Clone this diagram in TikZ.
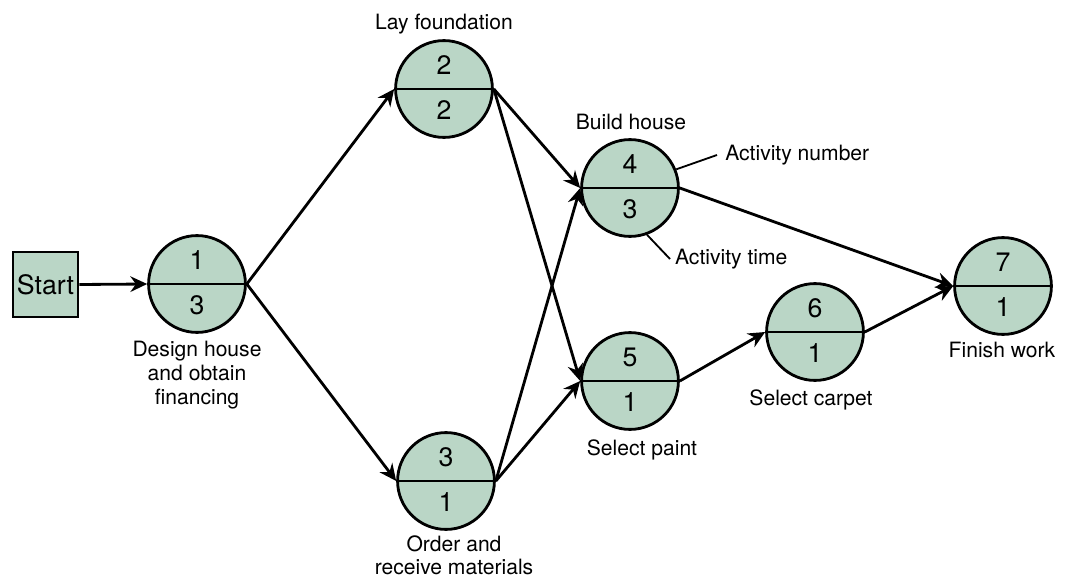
\documentclass[tikz,border=0pt]{standalone}
\usepackage{fontspec}
\setmainfont{TeX Gyre Heros}
\usetikzlibrary{arrows.meta}
\definecolor{actgreen}{RGB}{186,214,198}

\begin{document}
\begin{tikzpicture}[x=0.025cm,y=-0.025cm,
  act/.style={circle,draw,line width=2pt,fill=actgreen,minimum size=2.42cm,inner sep=0pt},
  num/.style={font=\fontsize{19}{19}\selectfont,inner sep=0pt},
  lbl/.style={font=\fontsize{15}{17}\selectfont,align=center,inner sep=0pt},
  link/.style={line width=2pt,-{Stealth[length=4.2mm,width=3.9mm,inset=1.4mm]}},
  lead/.style={line width=1.3pt}]
\useasboundingbox (0,0) rectangle (1074,578);

% Start box
\node[draw,line width=2pt,fill=actgreen,minimum size=1.62cm,inner sep=0pt,
      font=\fontsize{19}{19}\selectfont] (start) at (45.5,284.5) {Start};

% Activity circles
\node[act] (a1) at (197,284) {};
\node[act] (a2) at (444,89) {};
\node[act] (a3) at (446,481) {};
\node[act] (a4) at (630,188) {};
\node[act] (a5) at (630,381) {};
\node[act] (a6) at (815,332) {};
\node[act] (a7) at (1003,286) {};

% Split line through each circle
\draw[line width=2pt] (a1.west) -- (a1.east);
\draw[line width=2pt] (a2.west) -- (a2.east);
\draw[line width=2pt] (a3.west) -- (a3.east);
\draw[line width=2pt] (a4.west) -- (a4.east);
\draw[line width=2pt] (a5.west) -- (a5.east);
\draw[line width=2pt] (a6.west) -- (a6.east);
\draw[line width=2pt] (a7.west) -- (a7.east);

% Activity number (top) and time (bottom)
\node[num] (n1) at ([yshift=0.6cm]a1.center) {1};
\node[num] (t1) at ([yshift=-0.53cm]a1.center) {3};
\node[num] (n2) at ([yshift=0.6cm]a2.center) {2};
\node[num] (t2) at ([yshift=-0.53cm]a2.center) {2};
\node[num] (n3) at ([yshift=0.6cm]a3.center) {3};
\node[num] (t3) at ([yshift=-0.53cm]a3.center) {1};
\node[num] (n4) at ([yshift=0.6cm]a4.center) {4};
\node[num] (t4) at ([yshift=-0.53cm]a4.center) {3};
\node[num] (n5) at ([yshift=0.6cm]a5.center) {5};
\node[num] (t5) at ([yshift=-0.53cm]a5.center) {1};
\node[num] (n6) at ([yshift=0.6cm]a6.center) {6};
\node[num] (t6) at ([yshift=-0.53cm]a6.center) {1};
\node[num] (n7) at ([yshift=0.6cm]a7.center) {7};
\node[num] (t7) at ([yshift=-0.53cm]a7.center) {1};

% Activity names
\node[lbl,anchor=north] (l1) at (197,341) {Design house\\and obtain\\financing};
\node[lbl,anchor=north] (l2) at (444,14) {Lay foundation};
\node[lbl,anchor=north] (l3) at (454,535) {Order and\\receive materials};
\node[lbl,anchor=north] (l4) at (631,114) {Build house};
\node[lbl,anchor=north] (l5) at (642,439) {Select paint};
\node[lbl,anchor=north] (l6) at (811,389) {Select carpet};
\node[lbl,anchor=north] (l7) at (1002,342) {Finish work};

% Legend with leader lines
\node[lbl,anchor=west,inner sep=0.2cm] (numlbl) at (717,155) {Activity number};
\node[lbl,anchor=west,inner sep=0.12cm] (timelbl) at (670,259) {Activity time};
\draw[lead] (a4.22) -- (numlbl.west);
\draw[lead] (a4.-70) -- (timelbl.west);

% Precedence arrows
\draw[link] (start.east) -- (a1.west);
\draw[link] (a1.east) -- (a2.west);
\draw[link] (a1.east) -- (a3.west);
\draw[link] (a2.east) -- (a4.west);
\draw[link] (a2.east) -- (a5.west);
\draw[link] (a3.east) -- (a4.west);
\draw[link] (a3.east) -- (a5.west);
\draw[link] (a4.east) -- (a7.west);
\draw[link] (a5.east) -- (a6.west);
\draw[link] (a6.east) -- (a7.west);
\end{tikzpicture}
\end{document}
